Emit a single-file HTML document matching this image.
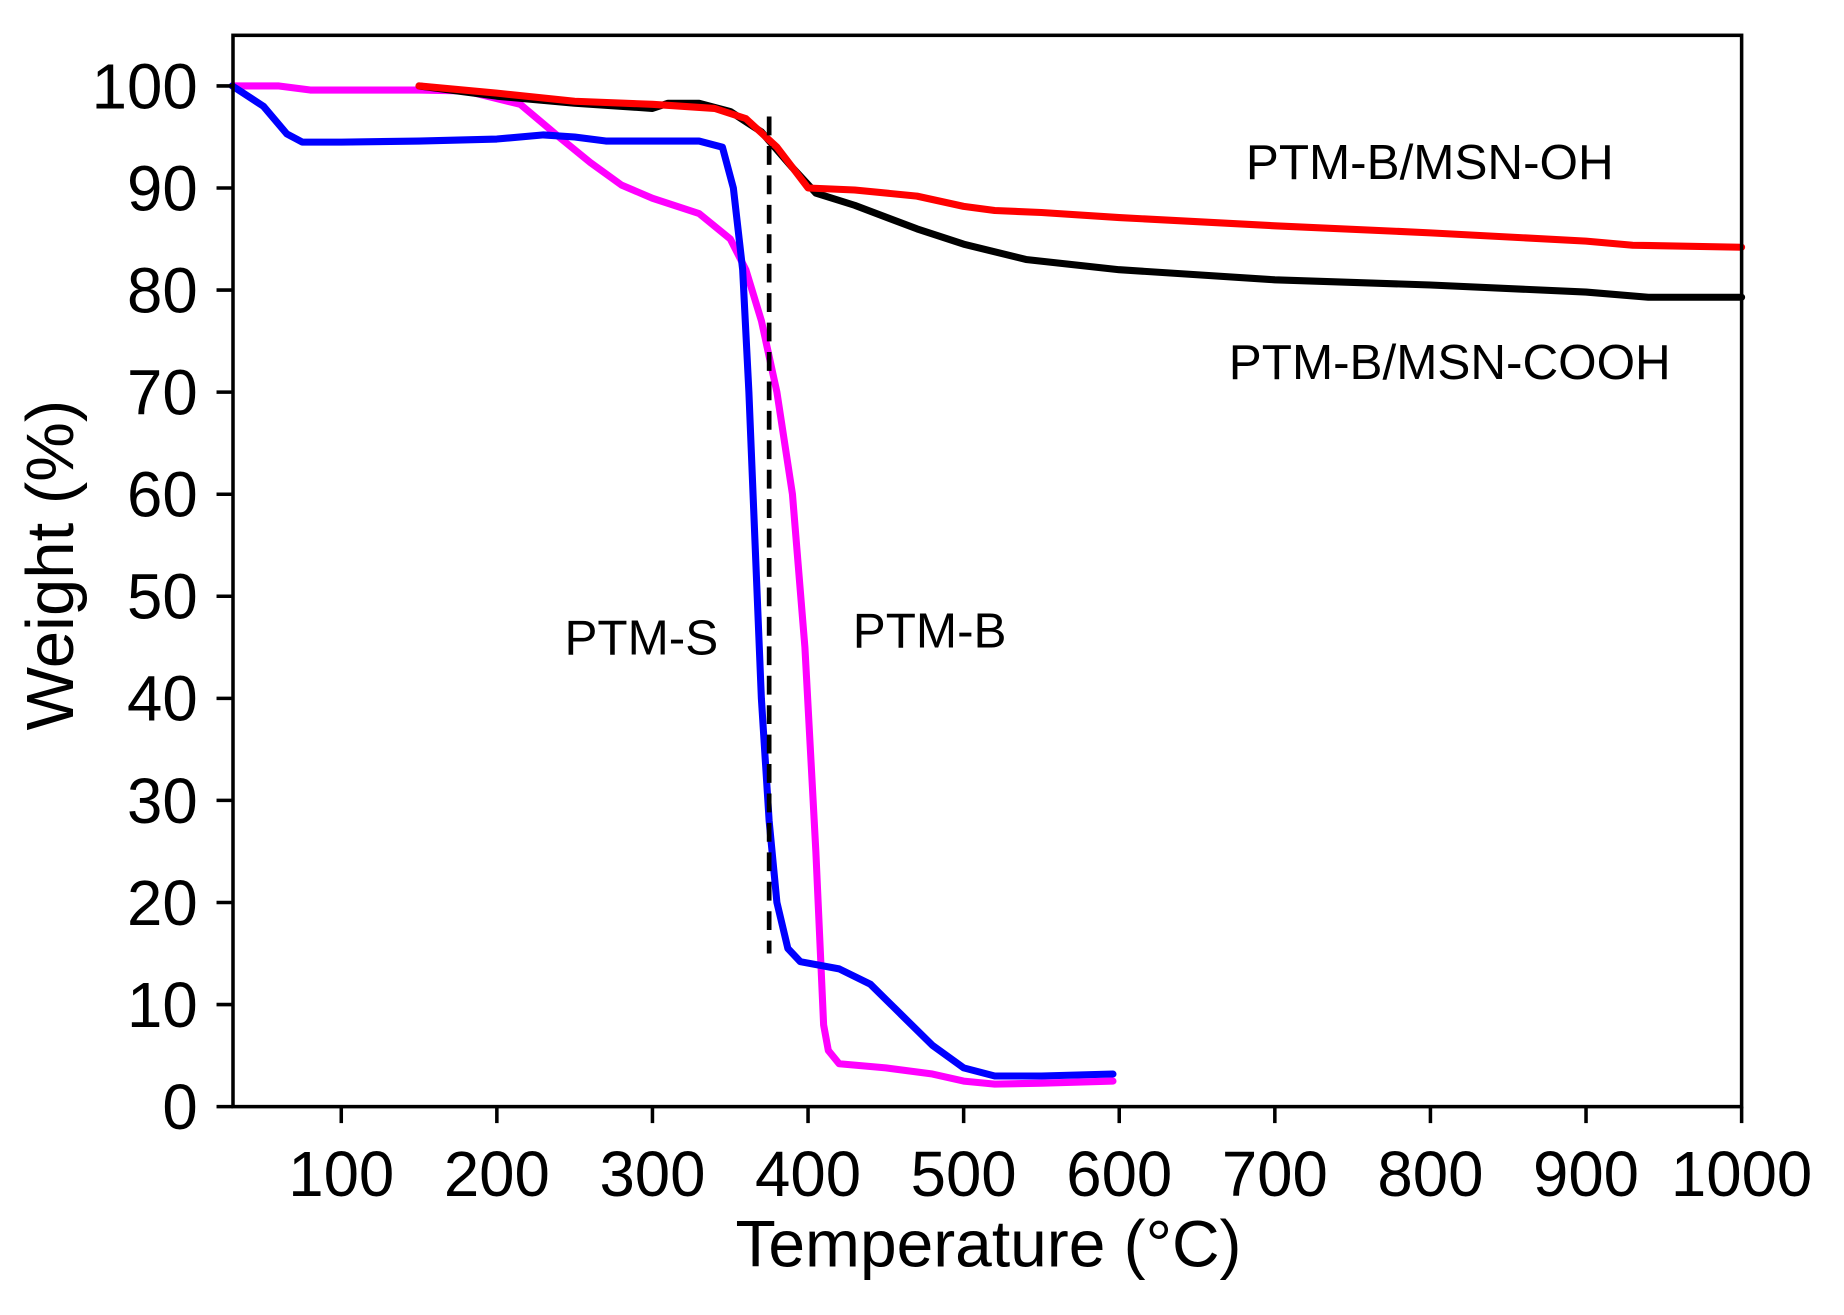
<!DOCTYPE html>
<html><head><meta charset="utf-8"><style>
html,body{margin:0;padding:0;background:#fff}
svg{display:block}
text{font-family:"Liberation Sans",Arial,sans-serif;fill:#000}
</style></head><body>
<svg id="chart" width="1844" height="1315" viewBox="0 0 1567 1117" preserveAspectRatio="none" xmlns="http://www.w3.org/2000/svg">
<g id="plot"></g>
</svg>
<script>
const xTicks=[100,200,300,400,500,600,700,800,900,1000];
const yTicks=[0,10,20,30,40,50,60,70,80,90,100];
const cooh_T=[150,200,250,300,310,330,350,370,390,405,430,470,500,540,600,650,700,800,900,940,1000];
const cooh_W=[100,99,98.3,97.8,98.3,98.3,97.5,95.5,92,89.5,88.3,86,84.5,83,82,81.5,81,80.5,79.8,79.3,79.3];
const oh_T=[150,200,250,300,340,360,380,400,430,470,500,520,550,600,700,800,900,930,1000];
const oh_W=[100,99.3,98.5,98.2,97.8,96.8,94,90,89.8,89.2,88.2,87.8,87.6,87.1,86.3,85.6,84.8,84.4,84.2];
const s_T=[30,50,65,75,100,150,200,230,250,270,330,345,352,358,362,366,370,375,380,387,395,420,440,460,480,500,520,550,596];
const s_W=[100,98,95.3,94.5,94.5,94.6,94.8,95.2,95,94.6,94.6,94,90,82,70,55,40,28,20,15.5,14.2,13.5,12,9,6,3.8,3,3,3.2];
const b_T=[30,60,80,150,180,215,240,260,280,300,330,350,360,370,380,390,398,405,410,413,420,450,480,500,520,550,596];
const b_W=[100,100,99.6,99.6,99.5,98.2,95,92.5,90.3,89,87.5,85,82,77,70,60,45,25,8,5.5,4.2,3.8,3.2,2.5,2.2,2.3,2.5];
const dashT=375, dashW=[97,15];

const L=198,R=1480,T=30,B=940;
const X=t=>290+(t-100)*(1190/900);
const Y=w=>940-w*8.67;
const g=document.getElementById('plot');
const NS='http://www.w3.org/2000/svg';
function mk(tag,attrs,txt){const e=document.createElementNS(NS,tag);for(const k in attrs)e.setAttribute(k,attrs[k]);if(txt!==undefined)e.textContent=txt;g.appendChild(e);return e;}

function series(Ts,Ws,color,name){
  const p=mk('polyline',{points:Ts.map((t,i)=>X(t).toFixed(1)+','+Y(Ws[i]).toFixed(1)).join(' '),fill:'none',stroke:color,'stroke-width':6,'stroke-linejoin':'round','stroke-linecap':'round'});
  
  
}
series(b_T,b_W,'#ff00ff','ptm-b-line');
series(s_T,s_W,'#0000ff','ptm-s-line');
series(cooh_T,cooh_W,'#000000','ptm-b-msn-cooh-line');
series(oh_T,oh_W,'#ff0000','ptm-b-msn-oh-line');
const d=mk('line',{x1:X(dashT),x2:X(dashT),y1:Y(dashW[0]),y2:Y(dashW[1]),stroke:'#000','stroke-width':4,'stroke-dasharray':'16,9'});



const fr=mk('rect',{x:L,y:T,width:R-L,height:B-T,fill:'none',stroke:'#000','stroke-width':3});



xTicks.forEach(t=>{
  const tk=mk('line',{x1:X(t),x2:X(t),y1:B,y2:B+14,stroke:'#000','stroke-width':3});
  
  
  const lb=mk('text',{x:X(t),y:1016,'text-anchor':'middle','font-size':54},String(t));
  
  
});
yTicks.forEach(w=>{
  const tk=mk('line',{x1:L-14,x2:L,y1:Y(w),y2:Y(w),stroke:'#000','stroke-width':3});
  
  
  const lb=mk('text',{x:168,y:Y(w)+19,'text-anchor':'end','font-size':54},String(w));
  
  
});
const xt=mk('text',{x:840,y:1076,'text-anchor':'middle','font-size':56},'Temperature (°C)');


const yt=mk('text',{x:0,y:0,'text-anchor':'middle','font-size':57,transform:'translate(62,480) rotate(-90)'},'Weight (%)');


[['PTM-B/MSN-OH',1215,152,'label-msn-oh'],['PTM-B/MSN-COOH',1232,322,'label-msn-cooh'],['PTM-S',545,556,'label-ptm-s'],['PTM-B',790,550,'label-ptm-b']].forEach(a=>{
  const e=mk('text',{x:a[1],y:a[2],'text-anchor':'middle','font-size':42},a[0]);
  
  
});
</script>
</body></html>
